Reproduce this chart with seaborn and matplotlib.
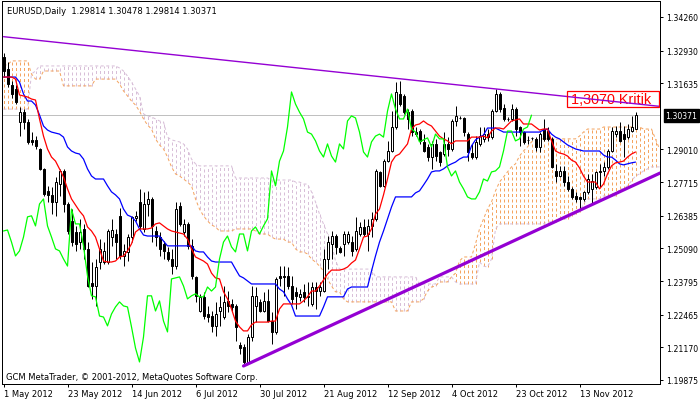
import numpy as np
import matplotlib
matplotlib.use("Agg")
import matplotlib.pyplot as plt
import matplotlib.transforms as mtransforms
from matplotlib.patches import Rectangle
import seaborn as sns

# ---------------- data ----------------
header_text = "EURUSD,Daily  1.29814 1.30478 1.29814 1.30371"
copyright_text = "GCM MetaTrader, \u00a9 2001-2012, MetaQuotes Software Corp."
kritik_text = "1,3070 Kritik"
last_price = 1.30371

date_labels = ["1 May 2012", "23 May 2012", "14 Jun 2012", "6 Jul 2012", "30 Jul 2012",
               "21 Aug 2012", "12 Sep 2012", "4 Oct 2012", "23 Oct 2012", "13 Nov 2012"]
date_label_bars = [0, 16, 32, 48, 64, 80, 96, 112, 128, 144]
price_ticks = [1.34260, 1.32930, 1.31635, 1.29010, 1.27715, 1.26385,
               1.25090, 1.23795, 1.22465, 1.21170, 1.19875]

open_ = [
    1.3268, 1.3220, 1.3156, 1.3141, 1.3010, 1.3049, 1.3010, 1.2939, 1.2939, 1.2903,
    1.2824, 1.2737, 1.2721, 1.2693, 1.2764, 1.2816, 1.2685, 1.2618, 1.2574, 1.2534,
    1.2586, 1.2507, 1.2372, 1.2360, 1.2455, 1.2455, 1.2455, 1.2554, 1.2566, 1.2638,
    1.2479, 1.2495, 1.2554, 1.2630, 1.2693, 1.2586, 1.2685, 1.2705, 1.2578, 1.2554,
    1.2527, 1.2495, 1.2467, 1.2439, 1.2677, 1.2574, 1.2606, 1.2519, 1.2396, 1.2261,
    1.2317, 1.2249, 1.2241, 1.2202, 1.2261, 1.2237, 1.2301, 1.2289, 1.2281, 1.2126,
    1.2118, 1.2059, 1.2158, 1.2281, 1.2297, 1.2261, 1.2301, 1.2221, 1.2178, 1.2400,
    1.2400, 1.2400, 1.2360, 1.2337, 1.2317, 1.2337, 1.2321, 1.2289, 1.2356, 1.2340,
    1.2340, 1.2467, 1.2527, 1.2558, 1.2511, 1.2527, 1.2534, 1.2534, 1.2507, 1.2566,
    1.2594, 1.2566, 1.2598, 1.2626, 1.2812, 1.2757, 1.2855, 1.2895, 1.2990, 1.3121,
    1.3113, 1.3049, 1.3053, 1.2970, 1.2974, 1.2931, 1.2911, 1.2871, 1.2923, 1.2891,
    1.2883, 1.2923, 1.2903, 1.3014, 1.3026, 1.3026, 1.2962, 1.2887, 1.2871, 1.2923,
    1.2943, 1.2962, 1.2950, 1.3053, 1.3121, 1.3065, 1.3022, 1.3022, 1.3061, 1.2990,
    1.2970, 1.2939, 1.2947, 1.2943, 1.2911, 1.2982, 1.2974, 1.2943, 1.2816, 1.2796,
    1.2816, 1.2772, 1.2745, 1.2717, 1.2713, 1.2705, 1.2733, 1.2745, 1.2753, 1.2812,
    1.2816, 1.2832, 1.2895, 1.2962, 1.2974, 1.2962, 1.2950, 1.2974, 1.29814]

high = [
    1.3283, 1.3248, 1.3172, 1.3156, 1.3069, 1.3061, 1.3022, 1.2970, 1.2954, 1.2907,
    1.2828, 1.2757, 1.2753, 1.2792, 1.2824, 1.2824, 1.2693, 1.2665, 1.2598, 1.2626,
    1.2606, 1.2534, 1.2455, 1.2467, 1.2546, 1.2534, 1.2586, 1.2626, 1.2586, 1.2669,
    1.2527, 1.2566, 1.2638, 1.2657, 1.2745, 1.2733, 1.2737, 1.2713, 1.2598, 1.2574,
    1.2538, 1.2515, 1.2507, 1.2693, 1.2693, 1.2626, 1.2614, 1.2546, 1.2400, 1.2329,
    1.2337, 1.2281, 1.2261, 1.2297, 1.2321, 1.2360, 1.2340, 1.2309, 1.2289, 1.2138,
    1.2130, 1.2170, 1.2360, 1.2356, 1.2309, 1.2337, 1.2348, 1.2257, 1.2396, 1.2439,
    1.2439, 1.2435, 1.2400, 1.2356, 1.2348, 1.2368, 1.2376, 1.2376, 1.2376, 1.2376,
    1.2507, 1.2558, 1.2578, 1.2566, 1.2519, 1.2578, 1.2578, 1.2558, 1.2634, 1.2614,
    1.2626, 1.2626, 1.2653, 1.2824, 1.2816, 1.2863, 1.2935, 1.3053, 1.3168, 1.3172,
    1.3121, 1.3061, 1.3061, 1.2990, 1.2982, 1.2962, 1.2923, 1.2935, 1.2943, 1.2895,
    1.2970, 1.2951, 1.3022, 1.3073, 1.3034, 1.3030, 1.2970, 1.2923, 1.2954, 1.2990,
    1.2990, 1.2982, 1.3061, 1.3141, 1.3129, 1.3081, 1.3030, 1.3081, 1.3069, 1.2994,
    1.2974, 1.2954, 1.2951, 1.2951, 1.2970, 1.3022, 1.2990, 1.2951, 1.2844, 1.2836,
    1.2836, 1.2796, 1.2753, 1.2733, 1.2717, 1.2737, 1.2804, 1.2804, 1.2816, 1.2844,
    1.2851, 1.2903, 1.2990, 1.2994, 1.3010, 1.2994, 1.3002, 1.3034, 1.30478]

low = [
    1.3188, 1.3148, 1.3105, 1.3081, 1.2954, 1.2982, 1.2923, 1.2919, 1.2903, 1.2820,
    1.2717, 1.2693, 1.2645, 1.2638, 1.2717, 1.2653, 1.2566, 1.2519, 1.2499, 1.2507,
    1.2467, 1.2356, 1.2309, 1.2281, 1.2427, 1.2447, 1.2447, 1.2519, 1.2467, 1.2467,
    1.2439, 1.2459, 1.2534, 1.2618, 1.2586, 1.2574, 1.2638, 1.2534, 1.2519, 1.2479,
    1.2467, 1.2459, 1.2407, 1.2427, 1.2598, 1.2558, 1.2507, 1.2388, 1.2297, 1.2257,
    1.2229, 1.2217, 1.2178, 1.2162, 1.2202, 1.2229, 1.2257, 1.2261, 1.2142, 1.2091,
    1.2043, 1.2051, 1.2142, 1.2217, 1.2257, 1.2257, 1.2217, 1.2130, 1.2170, 1.2360,
    1.2321, 1.2348, 1.2289, 1.2269, 1.2301, 1.2297, 1.2281, 1.2281, 1.2269, 1.2321,
    1.2337, 1.2427, 1.2467, 1.2487, 1.2491, 1.2479, 1.2527, 1.2479, 1.2499, 1.2558,
    1.2558, 1.2499, 1.2554, 1.2618, 1.2753, 1.2753, 1.2851, 1.2891, 1.2982, 1.3073,
    1.3042, 1.2982, 1.2954, 1.2954, 1.2923, 1.2891, 1.2855, 1.2824, 1.2855, 1.2836,
    1.2875, 1.2875, 1.2895, 1.2994, 1.3022, 1.2954, 1.2855, 1.2863, 1.2863, 1.2915,
    1.2931, 1.2935, 1.2943, 1.3049, 1.3049, 1.3014, 1.3014, 1.3014, 1.2954, 1.2915,
    1.2923, 1.2923, 1.2939, 1.2895, 1.2891, 1.2935, 1.2935, 1.2828, 1.2772, 1.2792,
    1.2757, 1.2737, 1.2705, 1.2693, 1.2665, 1.2697, 1.2725, 1.2685, 1.2745, 1.2753,
    1.2796, 1.2824, 1.2891, 1.2950, 1.2931, 1.2871, 1.2943, 1.2970, 1.29814]

close = [
    1.3212, 1.3160, 1.3121, 1.3089, 1.3049, 1.3010, 1.2931, 1.2931, 1.2915, 1.2824,
    1.2725, 1.2721, 1.2693, 1.2772, 1.2816, 1.2685, 1.2578, 1.2534, 1.2527, 1.2574,
    1.2507, 1.2360, 1.2360, 1.2435, 1.2507, 1.2499, 1.2578, 1.2582, 1.2534, 1.2479,
    1.2499, 1.2554, 1.2634, 1.2638, 1.2598, 1.2685, 1.2705, 1.2598, 1.2554, 1.2507,
    1.2499, 1.2467, 1.2439, 1.2665, 1.2606, 1.2606, 1.2519, 1.2400, 1.2321, 1.2317,
    1.2241, 1.2237, 1.2202, 1.2249, 1.2277, 1.2297, 1.2281, 1.2277, 1.2198, 1.2114,
    1.2059, 1.2158, 1.2321, 1.2321, 1.2261, 1.2301, 1.2221, 1.2178, 1.2388, 1.2392,
    1.2396, 1.2360, 1.2309, 1.2321, 1.2329, 1.2317, 1.2317, 1.2356, 1.2340, 1.2356,
    1.2467, 1.2534, 1.2558, 1.2515, 1.2495, 1.2566, 1.2566, 1.2499, 1.2578, 1.2594,
    1.2566, 1.2598, 1.2626, 1.2816, 1.2757, 1.2855, 1.2895, 1.2990, 1.3129, 1.3081,
    1.3049, 1.3022, 1.2970, 1.2962, 1.2935, 1.2895, 1.2871, 1.2923, 1.2875, 1.2851,
    1.2923, 1.2903, 1.3014, 1.3034, 1.3026, 1.2970, 1.2891, 1.2871, 1.2931, 1.2954,
    1.2962, 1.2950, 1.3053, 1.3121, 1.3061, 1.3022, 1.3022, 1.3061, 1.2982, 1.2970,
    1.2931, 1.2939, 1.2947, 1.2911, 1.2962, 1.2943, 1.2943, 1.2832, 1.2796, 1.2816,
    1.2772, 1.2745, 1.2713, 1.2705, 1.2705, 1.2733, 1.2784, 1.2776, 1.2812, 1.2816,
    1.2832, 1.2895, 1.2974, 1.2974, 1.2935, 1.2943, 1.2982, 1.2990, 1.30371]

tenkan = [
    1.3188, 1.3188, 1.3188, 1.3180, 1.3117, 1.3113, 1.3109, 1.3101, 1.3097, 1.3022,
    1.2954, 1.2903, 1.2871, 1.2855, 1.2824, 1.2792, 1.2745, 1.2705, 1.2681, 1.2657,
    1.2638, 1.2594, 1.2578, 1.2554, 1.2507, 1.2459, 1.2455, 1.2455, 1.2459, 1.2475,
    1.2479, 1.2499, 1.2527, 1.2574, 1.2586, 1.2586, 1.2586, 1.2590, 1.2606, 1.2610,
    1.2598, 1.2586, 1.2578, 1.2574, 1.2570, 1.2566, 1.2546, 1.2507, 1.2475, 1.2467,
    1.2459, 1.2447, 1.2411, 1.2392, 1.2388, 1.2337, 1.2309, 1.2269, 1.2221, 1.2198,
    1.2182, 1.2182, 1.2206, 1.2217, 1.2217, 1.2217, 1.2217, 1.2221, 1.2221, 1.2269,
    1.2289, 1.2289, 1.2289, 1.2289, 1.2289, 1.2301, 1.2317, 1.2340, 1.2340, 1.2360,
    1.2384, 1.2407, 1.2423, 1.2423, 1.2423, 1.2427, 1.2435, 1.2451, 1.2463, 1.2507,
    1.2554, 1.2558, 1.2586, 1.2645, 1.2665, 1.2721, 1.2784, 1.2851, 1.2875, 1.2883,
    1.2903, 1.2923, 1.2982, 1.2998, 1.3002, 1.3014, 1.3002, 1.2994, 1.2974, 1.2954,
    1.2943, 1.2935, 1.2923, 1.2935, 1.2935, 1.2935, 1.2935, 1.2950, 1.2950, 1.2950,
    1.2954, 1.2947, 1.2974, 1.2986, 1.2986, 1.2982, 1.2998, 1.3014, 1.3018, 1.3022,
    1.3002, 1.3002, 1.3002, 1.2990, 1.2978, 1.2982, 1.2982, 1.2935, 1.2895, 1.2887,
    1.2883, 1.2875, 1.2859, 1.2851, 1.2828, 1.2796, 1.2772, 1.2772, 1.2772, 1.2745,
    1.2764, 1.2804, 1.2836, 1.2848, 1.2851, 1.2855, 1.2871, 1.2883, 1.2891]

kijun = [
    1.3188, 1.3188, 1.3188, 1.3188, 1.3168, 1.3121, 1.3093, 1.3093, 1.3077, 1.3038,
    1.2994, 1.2978, 1.2970, 1.2966, 1.2962, 1.2950, 1.2911, 1.2895, 1.2887, 1.2883,
    1.2863, 1.2824, 1.2796, 1.2784, 1.2784, 1.2784, 1.2757, 1.2733, 1.2721, 1.2705,
    1.2665, 1.2641, 1.2634, 1.2618, 1.2586, 1.2562, 1.2558, 1.2558, 1.2558, 1.2558,
    1.2538, 1.2519, 1.2519, 1.2519, 1.2519, 1.2519, 1.2519, 1.2519, 1.2499, 1.2495,
    1.2495, 1.2475, 1.2459, 1.2455, 1.2455, 1.2455, 1.2455, 1.2455, 1.2427, 1.2400,
    1.2392, 1.2380, 1.2368, 1.2368, 1.2368, 1.2368, 1.2368, 1.2368, 1.2368, 1.2348,
    1.2337, 1.2309, 1.2285, 1.2241, 1.2241, 1.2241, 1.2241, 1.2241, 1.2241, 1.2241,
    1.2277, 1.2317, 1.2317, 1.2317, 1.2317, 1.2317, 1.2348, 1.2356, 1.2356, 1.2356,
    1.2356, 1.2356, 1.2419, 1.2479, 1.2534, 1.2578, 1.2626, 1.2673, 1.2713, 1.2713,
    1.2713, 1.2713, 1.2713, 1.2729, 1.2737, 1.2760, 1.2784, 1.2812, 1.2816, 1.2816,
    1.2824, 1.2836, 1.2844, 1.2851, 1.2863, 1.2871, 1.2871, 1.2915, 1.2939, 1.2950,
    1.2958, 1.2986, 1.2986, 1.2986, 1.2978, 1.2970, 1.2970, 1.2970, 1.2970, 1.2970,
    1.2970, 1.2970, 1.2970, 1.2970, 1.2970, 1.2978, 1.2982, 1.2962, 1.2950, 1.2943,
    1.2931, 1.2919, 1.2911, 1.2903, 1.2899, 1.2895, 1.2895, 1.2895, 1.2895, 1.2895,
    1.2879, 1.2871, 1.2871, 1.2859, 1.2844, 1.2840, 1.2844, 1.2848, 1.2851]

span_a = [
    1.3236, 1.3236, 1.3252, 1.3252, 1.3252, 1.3252, 1.3252, 1.3200, 1.3180, 1.3180,
    1.3212, 1.3212, 1.3212, 1.3212, 1.3212, 1.3153, 1.3153, 1.3153, 1.3153, 1.3153,
    1.3153, 1.3153, 1.3153, 1.3180, 1.3180, 1.3180, 1.3180, 1.3180, 1.3180, 1.3161,
    1.3133, 1.3113, 1.3093, 1.3077, 1.3053, 1.3022, 1.2998, 1.2982, 1.2943, 1.2919,
    1.2903, 1.2871, 1.2832, 1.2804, 1.2796, 1.2784, 1.2772, 1.2757, 1.2705, 1.2665,
    1.2638, 1.2618, 1.2602, 1.2594, 1.2578, 1.2578, 1.2578, 1.2578, 1.2586, 1.2586,
    1.2586, 1.2586, 1.2586, 1.2578, 1.2566, 1.2566, 1.2566, 1.2554, 1.2546, 1.2546,
    1.2546, 1.2534, 1.2534, 1.2507, 1.2495, 1.2495, 1.2487, 1.2467, 1.2455, 1.2439,
    1.2419, 1.2388, 1.2360, 1.2337, 1.2337, 1.2309, 1.2297, 1.2297, 1.2297, 1.2297,
    1.2297, 1.2297, 1.2297, 1.2297, 1.2297, 1.2297, 1.2297, 1.2297, 1.2261, 1.2261,
    1.2261, 1.2261, 1.2297, 1.2297, 1.2297, 1.2309, 1.2340, 1.2356, 1.2360, 1.2376,
    1.2376, 1.2376, 1.2396, 1.2411, 1.2459, 1.2475, 1.2475, 1.2475, 1.2527, 1.2586,
    1.2626, 1.2665, 1.2693, 1.2737, 1.2772, 1.2792, 1.2812, 1.2832, 1.2844, 1.2875,
    1.2895, 1.2911, 1.2931, 1.2939, 1.2943, 1.2943, 1.2943, 1.2943, 1.2943, 1.2943,
    1.2943, 1.2943, 1.2943, 1.2943, 1.2954, 1.2970, 1.2982, 1.2982, 1.2982, 1.2982,
    1.2990, 1.2990, 1.2990, 1.2990, 1.2990, 1.2990, 1.2990, 1.2990, 1.2990, 1.2990,
    1.2982, 1.2982, 1.2982, 1.2943, 1.2903]

span_b = [
    1.3061, 1.3061, 1.3061, 1.3061, 1.3061, 1.3061, 1.3061, 1.3200, 1.3212, 1.3232,
    1.3232, 1.3232, 1.3232, 1.3232, 1.3232, 1.3232, 1.3232, 1.3232, 1.3232, 1.3232,
    1.3232, 1.3232, 1.3232, 1.3232, 1.3232, 1.3232, 1.3232, 1.3232, 1.3232, 1.3224,
    1.3212, 1.3192, 1.3168, 1.3141, 1.3113, 1.3042, 1.3034, 1.3030, 1.3022, 1.3014,
    1.3010, 1.2950, 1.2939, 1.2935, 1.2931, 1.2923, 1.2903, 1.2863, 1.2844, 1.2836,
    1.2836, 1.2836, 1.2836, 1.2836, 1.2836, 1.2836, 1.2836, 1.2836, 1.2788, 1.2788,
    1.2788, 1.2788, 1.2788, 1.2788, 1.2788, 1.2788, 1.2788, 1.2780, 1.2780, 1.2780,
    1.2780, 1.2780, 1.2780, 1.2772, 1.2772, 1.2764, 1.2764, 1.2733, 1.2693, 1.2645,
    1.2606, 1.2566, 1.2527, 1.2459, 1.2427, 1.2427, 1.2427, 1.2427, 1.2427, 1.2427,
    1.2427, 1.2427, 1.2427, 1.2396, 1.2396, 1.2396, 1.2396, 1.2396, 1.2396, 1.2396,
    1.2396, 1.2396, 1.2396, 1.2396, 1.2368, 1.2368, 1.2368, 1.2368, 1.2368, 1.2396,
    1.2396, 1.2396, 1.2396, 1.2376, 1.2368, 1.2368, 1.2368, 1.2368, 1.2368, 1.2455,
    1.2439, 1.2435, 1.2467, 1.2586, 1.2606, 1.2606, 1.2606, 1.2606, 1.2606, 1.2606,
    1.2606, 1.2606, 1.2606, 1.2606, 1.2606, 1.2606, 1.2614, 1.2614, 1.2614, 1.2626,
    1.2626, 1.2626, 1.2638, 1.2645, 1.2653, 1.2685, 1.2705, 1.2705, 1.2705, 1.2705,
    1.2717, 1.2717, 1.2717, 1.2717, 1.2745, 1.2745, 1.2757, 1.2776, 1.2796, 1.2804,
    1.2816, 1.2824, 1.2832, 1.2832, 1.2832]

# trend lines (bar index, price) anchors
upper_trend_bars = [0, 164]
upper_trend_prices = [1.3348, 1.3072]
lower_trend_bars = [60, 164.2]
lower_trend_prices = [1.2043, 1.2808]

# ---------------- drawing ----------------
sns.set_theme(style="white")
plt.rcParams["font.family"] = ["DejaVu Sans"]

W, H = 700, 402
PX = 72.0 / 100.0  # one pixel in points
fig = plt.figure(figsize=(W / 100, H / 100), dpi=100)
fig.patch.set_facecolor("white")
ax = fig.add_axes([2 / W, 17 / H, 658 / W, 383 / H])
ax.set_facecolor("white")

bars = np.arange(len(close))
o = np.array(open_)
h = np.array(high)
l = np.array(low)
c = np.array(close)

SANDY = "#F4A460"
THISTLE = "#D8BFD8"
DOT = (0, (3, 2.5))

# Ichimoku cloud: vertical dotted hatch between the spans (one line per bar)
a = np.array(span_a)
b = np.array(span_b)
cloud_x = np.arange(len(a))
for xi, ya, yb in zip(cloud_x, a, b):
    ax.plot([xi, xi], [min(ya, yb), max(ya, yb)],
            color=SANDY if ya >= yb else THISTLE, lw=PX, ls=DOT,
            dash_capstyle="butt", zorder=1)
ax.plot(cloud_x, a, color=SANDY, lw=PX, ls=DOT, zorder=1.2)
ax.plot(cloud_x, b, color=THISTLE, lw=PX, ls=DOT, zorder=1.2)

# current price line
ax.axhline(last_price, color="#C0C0C0", lw=PX, zorder=1.5)

# candles
ax.vlines(bars, l, h, color="black", linewidth=PX, zorder=3)
up = c >= o
body_h = np.maximum(np.abs(c - o), 0.00003)
ax.bar(bars, body_h, bottom=np.minimum(o, c), width=0.5,
       color=np.where(up, "white", "black"), edgecolor="black",
       linewidth=PX, zorder=3.5)

# indicator lines
sns.lineplot(x=bars, y=kijun, ax=ax, color="#0000FF", lw=0.9, legend=False,
             errorbar=None, zorder=4)
sns.lineplot(x=bars, y=tenkan, ax=ax, color="#FF0000", lw=0.9, legend=False,
             errorbar=None, zorder=4)
chikou_bars = bars[:len(close) - 26]
sns.lineplot(x=chikou_bars, y=c[26:], ax=ax, color="#00FF00", lw=0.9,
             legend=False, errorbar=None, zorder=4)

# trend lines
sns.lineplot(x=upper_trend_bars, y=upper_trend_prices, ax=ax, color="#9400D3",
             lw=1.0, legend=False, errorbar=None, zorder=5)
sns.lineplot(x=lower_trend_bars, y=lower_trend_prices, ax=ax, color="#9400D3",
             lw=2.3, legend=False, errorbar=None, zorder=5)

# "Kritik" label box
ax.add_patch(Rectangle((140.9, 1.3069), 23.0, 0.0064, fill=False,
                       edgecolor="#FF0000", lw=0.9, zorder=6))
ax.text(141.9, 1.3100, kritik_text, color="#FF0000", fontsize=10.4,
        family=["Liberation Sans", "DejaVu Sans"], va="center", ha="left",
        zorder=4.5)

# bar centres fall on pixel centres (4 px per bar)
ax.set_xlim(-0.375, -0.375 + 658 / 4)
ax.set_ylim(1.19716, 1.34894)

# axes styling
for sp in ax.spines.values():
    sp.set_visible(True)
    sp.set_color("black")
    sp.set_linewidth(PX)
ax.grid(False)

ax.yaxis.tick_right()
ax.set_yticks(price_ticks)
ax.set_yticklabels([f"{v:.5f}" for v in price_ticks])
ax.tick_params(axis="y", direction="out", length=2.5, width=PX, pad=2.2,
               labelsize=5.6, colors="black", left=False, right=True)
ax.set_xticks(date_label_bars)
ax.set_xticklabels(date_labels)
for lab in ax.get_xticklabels():
    lab.set_ha("left")
ax.tick_params(axis="x", direction="out", length=2.5, width=PX, pad=1.2,
               labelsize=6, colors="black", bottom=True)
ax.set_xlabel("")
ax.set_ylabel("")

# current price marker on the right axis
trans = mtransforms.blended_transform_factory(fig.transFigure, ax.transData)
ax.text(665.5 / W, last_price, f"{last_price:.5f}", transform=trans, color="white",
        fontsize=5.6, va="center", ha="left", clip_on=False, zorder=10,
        bbox=dict(boxstyle="square,pad=0.25", fc="black", ec="black"))

# header and copyright text
fig.text(7 / W, 1 - 11 / H, header_text, fontsize=6, color="black",
         va="center", ha="left")
fig.text(6 / W, 1 - 377.5 / H, copyright_text, fontsize=6, color="black",
         va="center", ha="left")

fig.savefig("out.png", dpi=100, facecolor="white")
